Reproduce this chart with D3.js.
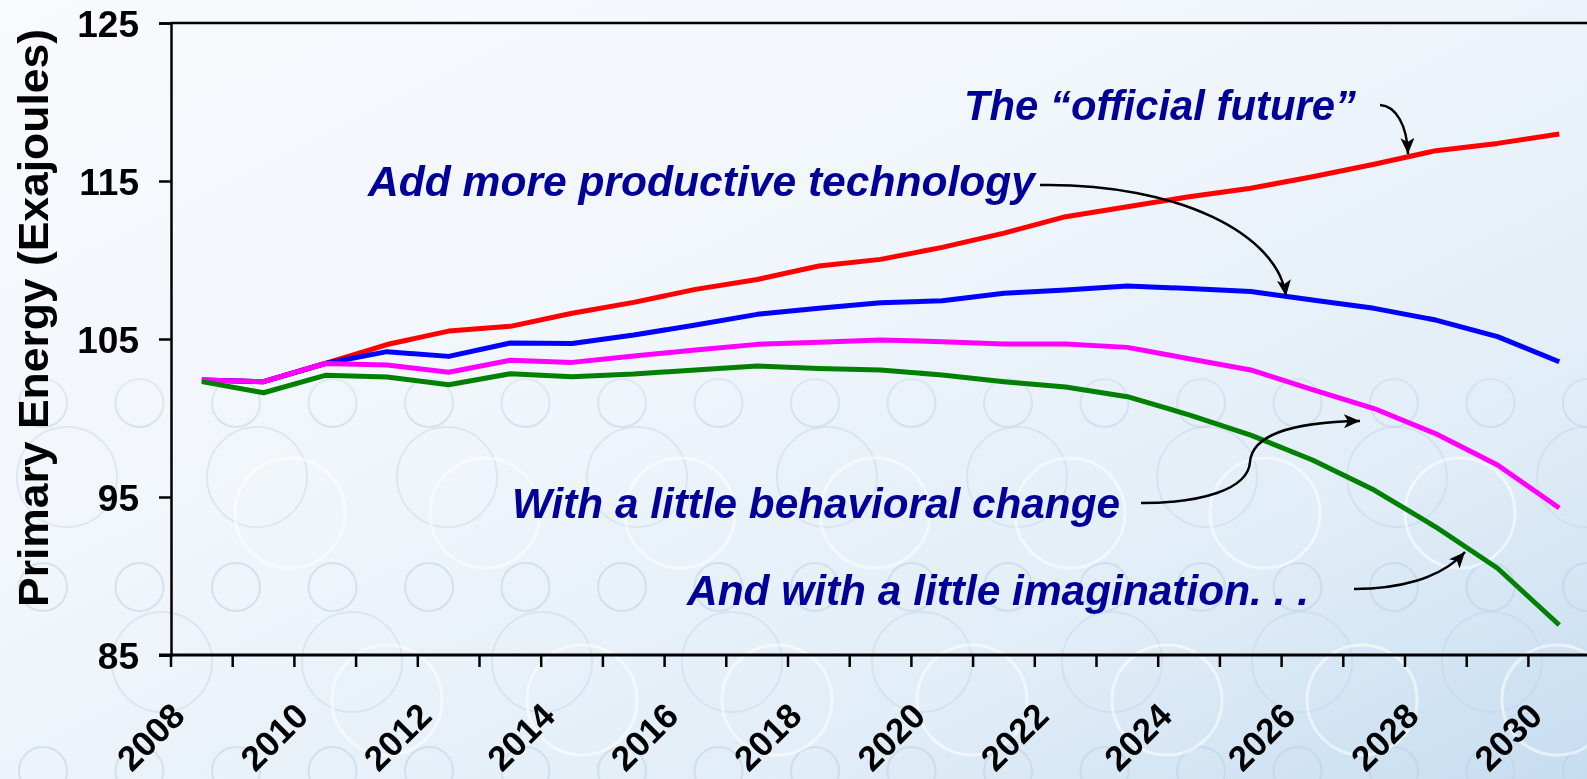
<!DOCTYPE html>
<html>
<head>
<meta charset="utf-8">
<script src="https://cdn.jsdelivr.net/npm/d3@7"></script>
<style>
  html, body { margin: 0; padding: 0; overflow: hidden; }
  body { width: 1587px; height: 779px; }
  text { font-family: "Liberation Sans", Arial, sans-serif; }
</style>
</head>
<body>
<svg id="chart" width="1587" height="779"></svg>
<script>
// ---- data ----
var years = [2008, 2009, 2010, 2011, 2012, 2013, 2014, 2015, 2016, 2017, 2018, 2019,
             2020, 2021, 2022, 2023, 2024, 2025, 2026, 2027, 2028, 2029, 2030];

var officialFuture = [102.4, 102.3, 103.45, 104.65, 105.5, 105.8, 106.63, 107.32, 108.14, 108.77, 109.62, 110.04,
                      110.8, 111.7, 112.74, 113.37, 114.0, 114.54, 115.27, 116.06, 116.92, 117.38, 117.97];
var productiveTech = [102.4, 102.3, 103.45, 104.2, 103.9, 104.75, 104.72, 105.25, 105.89, 106.56, 106.94, 107.3,
                      107.42, 107.89, 108.1, 108.35, 108.2, 108.0, 107.47, 106.94, 106.2, 105.15, 103.56];
var behavioralChange = [102.4, 102.3, 103.45, 103.35, 102.9, 103.65, 103.52, 103.92, 104.3, 104.66, 104.79, 104.94,
                        104.83, 104.68, 104.68, 104.47, 103.75, 103.04, 101.8, 100.6, 99.0, 97.03, 94.3];
var imagination = [102.3, 101.6, 102.7, 102.6, 102.1, 102.8, 102.61, 102.78, 103.04, 103.29, 103.14, 103.04,
                   102.72, 102.3, 101.96, 101.35, 100.2, 98.92, 97.34, 95.44, 93.1, 90.49, 86.9];

var yTicks = [85, 95, 105, 115, 125];
var xLabelYears = [2008, 2010, 2012, 2014, 2016, 2018, 2020, 2022, 2024, 2026, 2028, 2030];

var seriesList = [
  { name: "official", values: officialFuture, color: "#ff0000" },
  { name: "technology", values: productiveTech, color: "#0000ff" },
  { name: "behavior", values: behavioralChange, color: "#ff00ff" },
  { name: "imagination", values: imagination, color: "#008000" }
];

// ---- layout ----
var W = 1587, H = 779;
var plotLeft = 171, plotTop = 23, plotBottom = 655;
var band = 61.7;

var svg = d3.select("#chart");
var defs = svg.append("defs");

// background gradient
var bg = defs.append("linearGradient").attr("id", "bg")
  .attr("x1", 0).attr("y1", 0).attr("x2", 1).attr("y2", 1);
bg.append("stop").attr("offset", "0%").attr("stop-color", "#f8fafd");
bg.append("stop").attr("offset", "40%").attr("stop-color", "#f1f6fb");
bg.append("stop").attr("offset", "75%").attr("stop-color", "#e1edf7");
bg.append("stop").attr("offset", "100%").attr("stop-color", "#c6ddf0");

svg.append("rect").attr("width", W).attr("height", H).attr("fill", "url(#bg)");

// fade for the circle decoration (stronger lower down)
var fade = defs.append("linearGradient").attr("id", "fade")
  .attr("x1", 0).attr("y1", 0).attr("x2", 0).attr("y2", 1);
fade.append("stop").attr("offset", "0.38").attr("stop-color", "#fff").attr("stop-opacity", 0);
fade.append("stop").attr("offset", "0.55").attr("stop-color", "#fff").attr("stop-opacity", 1);
var mask = defs.append("mask").attr("id", "circMask");
mask.append("rect").attr("width", W).attr("height", H).attr("fill", "url(#fade)");

var deco = svg.append("g").attr("mask", "url(#circMask)");
// small bluish circles
[403, 587, 771].forEach(function(cy) {
  for (var cx = 43; cx < W + 40; cx += 96.5) {
    deco.append("circle").attr("cx", cx).attr("cy", cy).attr("r", 24)
      .attr("fill", "none").attr("stroke", "#b9d0e4").attr("stroke-width", 2).attr("opacity", 0.5);
  }
});
// larger bluish circles
[477, 662].forEach(function(cy, i) {
  for (var cx = 67 + i * 95; cx < W + 60; cx += 190) {
    deco.append("circle").attr("cx", cx).attr("cy", cy).attr("r", 50)
      .attr("fill", "none").attr("stroke", "#bdd3e6").attr("stroke-width", 2).attr("opacity", 0.4);
  }
});
// white circles
[513, 700].forEach(function(cy, i) {
  for (var cx = 290 + i * 97; cx < W + 60; cx += 195) {
    deco.append("circle").attr("cx", cx).attr("cy", cy).attr("r", 55)
      .attr("fill", "none").attr("stroke", "#ffffff").attr("stroke-width", 3).attr("opacity", 0.55);
  }
});

// ---- scales ----
var x = d3.scaleBand().domain(years).range([plotLeft, plotLeft + band * years.length]).padding(0);
var y = d3.scaleLinear().domain([85, 125]).range([plotBottom, plotTop]);

// ---- axes ----
var yAxis = svg.append("g")
  .attr("transform", "translate(" + plotLeft + ",0)")
  .call(d3.axisLeft(y).tickValues(yTicks).tickSize(12).tickPadding(20));
yAxis.select(".domain").attr("stroke", "#000").attr("stroke-width", 2.5);
yAxis.selectAll(".tick line").attr("stroke", "#000").attr("stroke-width", 2.5);
yAxis.selectAll(".tick text")
  .attr("fill", "#000")
  .style("font-family", "'Liberation Sans', Arial, sans-serif")
  .style("font-size", "37px").style("font-weight", "bold")
  .attr("dy", "0.36em");

// top frame line
svg.append("line").attr("x1", plotLeft).attr("x2", W).attr("y1", y(125)).attr("y2", y(125))
  .attr("stroke", "#000").attr("stroke-width", 2.5);

// x axis line + ticks at band edges
svg.append("line").attr("x1", plotLeft - 12).attr("x2", W).attr("y1", plotBottom).attr("y2", plotBottom)
  .attr("stroke", "#000").attr("stroke-width", 3);
svg.append("g").selectAll("line").data(years).join("line")
  .attr("x1", d => x(d)).attr("x2", d => x(d))
  .attr("y1", plotBottom).attr("y2", plotBottom + 12)
  .attr("stroke", "#000").attr("stroke-width", 2.5);

svg.append("g").selectAll("text").data(xLabelYears).join("text")
  .attr("transform", d => "translate(" + (x(d) + x.bandwidth() / 2 - 15) + "," + (plotBottom + 63) + ") rotate(-45)")
  .attr("text-anchor", "end")
  .style("font-size", "35px").style("font-weight", "bold")
  .attr("fill", "#000")
  .text(d => d);

// y axis title
svg.append("text")
  .attr("transform", "translate(48,318) rotate(-90)")
  .attr("text-anchor", "middle")
  .style("font-size", "42px").style("font-weight", "bold")
  .attr("textLength", 578).attr("lengthAdjust", "spacingAndGlyphs")
  .attr("fill", "#000")
  .text("Primary Energy (Exajoules)");

// ---- lines ----
var line = d3.line()
  .x((d, i) => x(years[i]) + x.bandwidth() / 2)
  .y(d => y(d));

svg.append("g").selectAll("path").data(seriesList).join("path")
  .attr("d", d => line(d.values))
  .attr("fill", "none")
  .attr("stroke", d => d.color)
  .attr("stroke-width", 5)
  .attr("stroke-linejoin", "round");

// ---- annotations ----
defs.append("marker").attr("id", "head")
  .attr("markerUnits", "userSpaceOnUse")
  .attr("markerWidth", 17).attr("markerHeight", 14)
  .attr("refX", 16).attr("refY", 7).attr("orient", "auto")
  .append("path").attr("d", "M0,0 L16,7 L0,14 L4,7 Z").attr("fill", "#000");

var arrows = [
  "M1380,105 C1396,106 1407,125 1408,154",
  "M1040,185 C1180,183 1278,235 1286,296",
  "M1141,503 C1200,503 1248,490 1250,462 C1252,436 1290,422 1360,421",
  "M1354,589 C1395,589 1440,580 1465,552"
];
svg.append("g").selectAll("path").data(arrows).join("path")
  .attr("d", d => d)
  .attr("fill", "none").attr("stroke", "#000").attr("stroke-width", 2.5)
  .attr("marker-end", "url(#head)");

var notes = [
  { text: "The \u201Cofficial future\u201D", x: 964, y: 120, w: 392 },
  { text: "Add more productive technology", x: 368, y: 196, w: 667 },
  { text: "With a little behavioral change", x: 512, y: 518, w: 608 },
  { text: "And with a little imagination. . .", x: 687, y: 605, w: 622 }
];
svg.append("g").selectAll("text").data(notes).join("text")
  .attr("x", d => d.x).attr("y", d => d.y)
  .attr("textLength", d => d.w).attr("lengthAdjust", "spacingAndGlyphs")
  .style("font-size", "43px").style("font-weight", "bold").style("font-style", "italic")
  .attr("fill", "#000099")
  .text(d => d.text);
</script>
</body>
</html>
